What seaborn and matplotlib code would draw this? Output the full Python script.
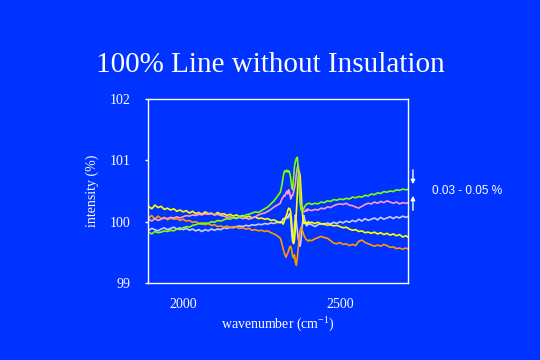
import matplotlib
matplotlib.use("Agg")
import matplotlib.pyplot as plt
import seaborn as sns
import pandas as pd

# ---- data ----
wavenumber = list(range(1880, 2311, 10)) + list(range(2313, 2404, 3)) + list(range(2410, 2721, 10))

yellow = [100.22, 100.25, 100.21, 100.27, 100.23, 100.25, 100.20, 100.22, 100.19, 100.21,
          100.17, 100.19, 100.16, 100.18, 100.14, 100.17, 100.13, 100.15, 100.12, 100.16,
          100.13, 100.14, 100.11, 100.15, 100.12, 100.13, 100.10, 100.12, 100.09, 100.11,
          100.08, 100.10, 100.07, 100.09, 100.06, 100.08, 100.05, 100.06, 100.04, 100.05,
          100.02, 100.03, 100.00, 99.99,
          100.00, 99.98, 99.96, 100.00, 100.05, 100.09, 100.12, 100.19, 100.22, 100.21,
          100.16, 100.00, 99.75, 99.64, 99.70, 99.90, 100.15, 100.45, 100.70, 100.82,
          100.75, 100.50, 100.22, 100.05, 99.97, 99.99, 99.96, 99.99, 99.97, 100.00,
          99.98,
          99.99, 99.97, 99.99, 99.96, 99.97, 99.94, 99.95, 99.93, 99.94, 99.92,
          99.90, 99.91, 99.88, 99.86, 99.87, 99.84, 99.85, 99.82, 99.83, 99.81,
          99.83, 99.80, 99.82, 99.79, 99.81, 99.78, 99.80, 99.77, 99.79, 99.75,
          99.77, 99.74]

orange = [100.08, 100.06, 100.10, 100.04, 100.09, 100.05, 100.07, 100.03, 100.06, 100.04,
          100.05, 100.02, 100.04, 100.01, 100.02, 99.99, 100.00, 99.97, 99.98, 99.95,
          99.97, 99.94, 99.95, 99.92, 99.93, 99.91, 99.93, 99.90, 99.92, 99.91,
          99.89, 99.90, 99.88, 99.89, 99.86, 99.87, 99.85, 99.86, 99.84, 99.85,
          99.82, 99.80, 99.77, 99.73,
          99.68, 99.62, 99.55, 99.50, 99.46, 99.42, 99.46, 99.49, 99.54, 99.59,
          99.60, 99.54, 99.44, 99.41, 99.46, 99.34, 99.29, 99.41, 99.57, 99.73,
          99.86, 99.91, 99.87, 99.83, 99.78, 99.75, 99.72, 99.70, 99.70, 99.68,
          99.70,
          99.69, 99.72, 99.74, 99.76, 99.74, 99.73, 99.69, 99.65, 99.64, 99.66,
          99.63, 99.64, 99.61, 99.63, 99.61, 99.68, 99.70, 99.66, 99.64, 99.62,
          99.60, 99.62, 99.60, 99.63, 99.61, 99.58, 99.59, 99.56, 99.57, 99.55,
          99.57, 99.55]

pink = [100.02, 100.04, 100.01, 100.05, 100.02, 100.04, 100.06, 100.05, 100.07, 100.06,
        100.08, 100.06, 100.08, 100.10, 100.09, 100.11, 100.10, 100.12, 100.11, 100.13,
        100.12, 100.13, 100.11, 100.12, 100.10, 100.09, 100.07, 100.08, 100.06, 100.05,
        100.07, 100.05, 100.06, 100.04, 100.06, 100.08, 100.11, 100.13, 100.14, 100.17,
        100.20, 100.24, 100.27, 100.30,
        100.35, 100.38, 100.40, 100.43, 100.42, 100.47, 100.50, 100.45, 100.52, 100.47,
        100.37, 100.43, 100.42, 100.48, 100.55, 100.62, 100.78, 100.88, 100.92, 100.75,
        100.45, 100.25, 100.18, 100.17, 100.16, 100.17, 100.19, 100.17, 100.21, 100.19,
        100.19,
        100.18, 100.20, 100.19, 100.22, 100.21, 100.24, 100.23, 100.26, 100.28, 100.29,
        100.28, 100.30, 100.27, 100.26, 100.24, 100.22, 100.25, 100.28, 100.30, 100.29,
        100.32, 100.30, 100.33, 100.31, 100.34, 100.32, 100.30, 100.32, 100.29, 100.31,
        100.30, 100.31]

green = [99.81, 99.83, 99.80, 99.84, 99.82, 99.83, 99.85, 99.84, 99.86, 99.85,
         99.88, 99.87, 99.90, 99.92, 99.91, 99.94, 99.95, 99.97, 99.96, 99.98,
         99.97, 100.00, 99.99, 100.02, 100.01, 100.03, 100.05, 100.04, 100.07, 100.06,
         100.09, 100.08, 100.11, 100.12, 100.14, 100.16, 100.15, 100.18, 100.21, 100.24,
         100.29, 100.34, 100.41, 100.48,
         100.55, 100.63, 100.73, 100.81, 100.83, 100.81, 100.84, 100.81, 100.83, 100.79,
         100.71, 100.58, 100.52, 100.71, 100.90, 100.98, 101.03, 101.05, 100.85, 100.55,
         100.30, 100.20, 100.17, 100.19, 100.22, 100.25, 100.27, 100.29, 100.29, 100.30,
         100.30,
         100.28, 100.30, 100.29, 100.32, 100.31, 100.34, 100.33, 100.36, 100.35, 100.37,
         100.36, 100.38, 100.37, 100.40, 100.39, 100.41, 100.40, 100.43, 100.42, 100.45,
         100.44, 100.47, 100.46, 100.49, 100.48, 100.50, 100.49, 100.52, 100.51, 100.53,
         100.52, 100.53]

lightblue = [99.88, 99.86, 99.89, 99.87, 99.85, 99.88, 99.90, 99.87, 99.89, 99.91,
             99.88, 99.90, 99.87, 99.89, 99.86, 99.88, 99.85, 99.87, 99.84, 99.87,
             99.85, 99.88, 99.86, 99.88, 99.87, 99.90, 99.89, 99.91, 99.90, 99.92,
             99.93, 99.92, 99.94, 99.93, 99.95, 99.94, 99.96, 99.95, 99.97, 99.96,
             99.98, 99.97, 99.99, 99.98,
             100.00, 100.01, 100.05, 100.03, 100.06, 100.05, 100.08, 100.06, 100.11, 100.13,
             100.03, 99.84, 99.67, 99.70, 99.93, 100.11, 100.00, 99.86, 99.73, 99.64,
             99.60, 99.70, 99.90, 100.05, 100.10, 100.03, 99.97, 99.93, 99.98, 99.95,
             99.97,
             99.95, 99.92, 99.95, 99.97, 99.95, 99.98, 99.96, 99.99, 99.97, 100.00,
             99.98, 100.01, 99.99, 100.02, 100.00, 100.04, 100.01, 100.05, 100.02, 100.04,
             100.06, 100.03, 100.07, 100.04, 100.06, 100.08, 100.05, 100.08, 100.06, 100.09,
             100.07, 100.09]

series_names = ["lightblue", "orange", "yellow", "pink", "green"]
series_values = [lightblue, orange, yellow, pink, green]
series_colors = ["#c8ccff", "#ff9900", "#ffff00", "#ff99cc", "#7fff00"]

y_ticks = [99, 100, 101, 102]
x_ticks = [2000, 2500]

title = "100% Line without Insulation"
x_label = "wavenumber (cm$^{-1}$)"
y_label = "intensity (%)"
note = "0.03 - 0.05 %"

# ---- plot ----
sns.set_theme(style="white")
bg = "#0033ff"
plt.rcParams["font.family"] = ["Liberation Serif", "DejaVu Serif"]
plt.rcParams["mathtext.fontset"] = "custom"
plt.rcParams["mathtext.rm"] = "Liberation Serif"
plt.rcParams["mathtext.it"] = "Liberation Serif"

frames = []
for name, vals in zip(series_names, series_values):
    frames.append(pd.DataFrame({"wavenumber": wavenumber, "intensity": vals, "run": name}))
df = pd.concat(frames, ignore_index=True)

fig = plt.figure(figsize=(5.4, 3.6), dpi=100, facecolor=bg)
ax = fig.add_axes([148 / 540, 1 - 283 / 360, 260 / 540, 184 / 360])
ax.set_facecolor(bg)

sns.lineplot(data=df, x="wavenumber", y="intensity", hue="run",
             hue_order=series_names, palette=dict(zip(series_names, series_colors)),
             estimator=None, sort=False, linewidth=1.2, legend=False, ax=ax)

ax.set_xlim(1888, 2717)
ax.set_ylim(99, 102)
ax.set_xticks(x_ticks)
ax.set_yticks(y_ticks)
ax.set_xticklabels([str(t) for t in x_ticks])
ax.set_yticklabels([str(t) for t in y_ticks])
ax.tick_params(axis="x", colors="white", labelcolor="white", length=0, pad=11, labelsize=10)
ax.tick_params(axis="y", colors="white", labelcolor="white", length=2.5, width=1, pad=10,
               labelsize=10, left=True)
for s in ax.spines.values():
    s.set_color("white")
    s.set_linewidth(1.0)

ax.set_xlabel(x_label, color="white", fontsize=10, labelpad=3)
ax.set_ylabel(y_label, color="white", fontsize=10, labelpad=8)

fig.text(0.5, 1 - 65 / 360, title, ha="center", va="center", color="white", fontsize=21)

# bracket arrows on the right
ax.annotate("", xy=(1.019, 0.522), xytext=(1.019, 0.63), xycoords="axes fraction",
            textcoords="axes fraction",
            arrowprops=dict(arrowstyle="-|>", color="white", lw=1, mutation_scale=6))
ax.annotate("", xy=(1.019, 0.489), xytext=(1.019, 0.38), xycoords="axes fraction",
            textcoords="axes fraction",
            arrowprops=dict(arrowstyle="-|>", color="white", lw=1, mutation_scale=6))
ax.text(1.092, 0.5, note, transform=ax.transAxes, ha="left", va="center", color="white",
        fontsize=8.5, family=["Liberation Sans", "DejaVu Sans"])

fig.savefig("out.png", dpi=100, facecolor=bg)
